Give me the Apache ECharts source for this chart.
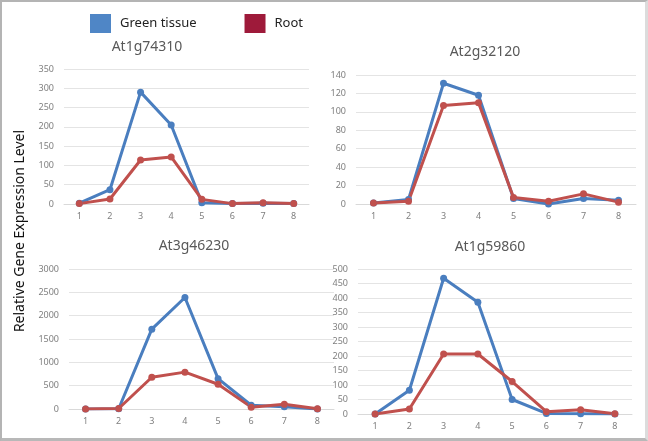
<!DOCTYPE html>
<html><head><meta charset="utf-8">
<script src="https://cdn.jsdelivr.net/npm/echarts@6/dist/echarts.min.js"></script>
<style>
html,body{margin:0;padding:0;background:#fff;}
#c{position:absolute;left:0;top:0;width:648px;height:441px;box-sizing:border-box;border-top:2px solid #b4b4b4;border-left:2px solid #b4b4b4;border-bottom:3px solid #b8b8b8;border-right:3px solid #dcdcdc;}
</style></head>
<body><div id="c"></div>
<script>
const categories = ['1','2','3','4','5','6','7','8'];
const titles = ['At1g74310','At2g32120','At3g46230','At1g59860'];
const green1 = [2, 37, 290, 205, 3, 1, 2, 1];
const root1  = [1, 13, 114, 122, 12, 1, 3, 1];
const green2 = [1, 5, 131, 118, 6, 0, 6, 4];
const root2  = [1, 3, 107, 110, 7, 3, 11, 2];
const green3 = [0, 5, 1710, 2390, 650, 80, 50, 0];
const root3  = [0, 10, 680, 790, 530, 40, 100, 5];
const green4 = [0, 82, 468, 385, 50, 2, 1, 0];
const root4  = [0, 17, 207, 207, 112, 8, 15, 1];
const yMax = [350, 140, 3000, 500];
const yInterval = [50, 20, 500, 50];

const greens = [green1, green2, green3, green4];
const roots = [root1, root2, root3, root4];
const grids = [
  {left: 62, top: 67, width: 245, height: 135},
  {left: 354, top: 73, width: 280, height: 129},
  {left: 67, top: 267, width: 265, height: 140},
  {left: 356, top: 267, width: 274, height: 145}
];
const titlePos = [[140,33],[478,38],[187,232],[483,233]];
const BLUE = '#4a7ebf', RED = '#c0504d';
const font = 'Noto Sans';
const chart = echarts.init(document.getElementById('c'));
const option = {
  animation: false,
  textStyle: {fontFamily: font},
  legend: {
    left: 83, top: 7, icon: 'rect', itemWidth: 21, itemHeight: 19, itemGap: 48,
    textStyle: {fontSize: 13, color: '#222', fontFamily: font, padding: [0,0,0,4]},
    data: [
      {name: 'Green tissue', itemStyle: {color: '#4f86c6'}},
      {name: 'Root', itemStyle: {color: '#9e1a3a'}}
    ]
  },
  title: titles.map((t, i) => ({
    text: t, left: titlePos[i][0], top: titlePos[i][1], textAlign: 'center',
    textStyle: {fontSize: 14, fontWeight: 'normal', color: '#595959', fontFamily: font}
  })),
  graphic: [{
    type: 'text', rotation: Math.PI/2, x: 18, y: 229,
    style: {text: 'Relative Gene Expression Level', fontSize: 14, fill: '#111', fontFamily: font, textAlign: 'center', textVerticalAlign: 'middle'}
  }],
  grid: grids,
  xAxis: grids.map((g, i) => ({
    type: 'category', gridIndex: i, data: categories, boundaryGap: true,
    axisLine: {show: true, lineStyle: {color: '#d9d9d9'}}, axisTick: {show: false},
    axisLabel: {fontSize: 9, color: '#7f7f7f', margin: 8, fontFamily: font}
  })),
  yAxis: grids.map((g, i) => ({
    type: 'value', gridIndex: i, min: 0, max: yMax[i], interval: yInterval[i],
    axisLine: {show: false}, axisTick: {show: false},
    splitLine: {lineStyle: {color: '#e4e4e4'}},
    axisLabel: {fontSize: 9, color: '#7f7f7f', margin: 10, fontFamily: font, formatter: v => String(v)}
  })),
  series: []
};
for (let i = 0; i < 4; i++) {
  option.series.push({
    name: 'Green tissue', type: 'line', xAxisIndex: i, yAxisIndex: i, data: greens[i],
    symbol: 'circle', symbolSize: 7, lineStyle: {width: 3, color: BLUE}, itemStyle: {color: BLUE}
  });
  option.series.push({
    name: 'Root', type: 'line', xAxisIndex: i, yAxisIndex: i, data: roots[i],
    symbol: 'circle', symbolSize: 7, lineStyle: {width: 3, color: RED}, itemStyle: {color: RED}
  });
}
chart.setOption(option);
</script></body></html>
